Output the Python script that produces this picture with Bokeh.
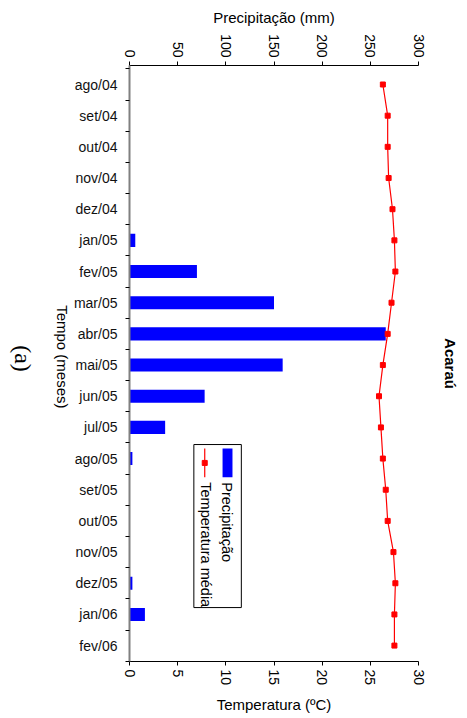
import math
from bokeh.plotting import figure
from bokeh.layouts import row
from bokeh.models import Range1d, LinearAxis, FixedTicker
from bokeh.core.properties import value
from bokeh.embed import file_html
from bokeh.resources import INLINE

months = ["ago/04", "set/04", "out/04", "nov/04", "dez/04", "jan/05", "fev/05",
          "mar/05", "abr/05", "mai/05", "jun/05", "jul/05", "ago/05", "set/05",
          "out/05", "nov/05", "dez/05", "jan/06", "fev/06"]
precip_mm = [0, 0, 0, 0, 0, 6, 70, 150, 266, 159, 78, 37, 3, 0, 0, 0, 3, 16, 0]
temp_c = [26.3, 26.8, 26.8, 26.9, 27.3, 27.5, 27.6, 27.2, 26.8, 26.3, 25.9,
          26.1, 26.3, 26.6, 26.8, 27.4, 27.6, 27.5, 27.5]
temp_ticks = [0, 5, 10, 15, 20, 25, 30]
prec_ticks = [0, 50, 100, 150, 200, 250, 300]

FONT = "Liberation Sans"
idx = list(range(len(months)))
H = 716
SIDE_W = 70

# ---- narrow side panel holding the panel tag and the rotated y title ----
side = figure(width=SIDE_W, height=H, output_backend="svg", toolbar_location=None,
              x_range=Range1d(0, SIDE_W), y_range=Range1d(H, 0),
              x_axis_location=None, y_axis_location=None, min_border=0)
side.outline_line_color = None
side.xgrid.visible = False
side.ygrid.visible = False
side.text(x=[22], y=[352], text=["(a)"], angle=-math.pi / 2, text_align="center",
          text_baseline="middle", text_font=value("Liberation Serif"),
          text_font_size="24px", text_color="black")
side.text(x=[62], y=[350], text=["Tempo (meses)"], angle=-math.pi / 2, text_align="center",
          text_baseline="middle", text_font=value(FONT),
          text_font_size="15px", text_color="black")

# ---- main chart ----
p = figure(width=391, height=H, output_backend="svg", toolbar_location=None,
           x_range=Range1d(0, 30), y_range=Range1d(18.51, -0.61),
           x_axis_location=None, y_axis_location=None,
           min_border_left=57, min_border_right=42, min_border_top=65,
           min_border_bottom=55)
p.extra_x_ranges = {"prec": Range1d(0, 300)}
p.outline_line_color = None
p.xgrid.visible = False
p.ygrid.visible = False
p.background_fill_color = "white"

# bars
p.hbar(y=idx, left=0, right=precip_mm, height=0.42, x_range_name="prec",
       fill_color="#0000ff", line_color=None)
# temperature
p.line(x=temp_c, y=idx, line_color="red", line_width=1.2)
p.scatter(x=temp_c, y=idx, marker="square", size=5, fill_color="red", line_color="red")

def style_x(ax):
    ax.axis_line_color = "black"
    ax.major_tick_line_color = "black"
    ax.major_tick_out = 4
    ax.major_tick_in = 0
    ax.minor_tick_line_color = None
    ax.major_label_orientation = -math.pi / 2
    ax.major_label_text_font = FONT
    ax.major_label_text_font_size = "14px"
    ax.major_label_text_color = "black"
    ax.axis_label_text_font = FONT
    ax.axis_label_text_font_size = "15px"
    ax.axis_label_text_font_style = "normal"
    ax.axis_label_text_color = "black"
    ax.axis_label_standoff = 5
    ax.major_label_standoff = 4

bottom = LinearAxis(ticker=FixedTicker(ticks=temp_ticks), axis_label="Temperatura (ºC)")
style_x(bottom)
bottom.axis_label_standoff = 8
p.add_layout(bottom, "below")

top = LinearAxis(x_range_name="prec", ticker=FixedTicker(ticks=prec_ticks),
                 axis_label="Precipitação (mm)")
style_x(top)
p.add_layout(top, "above")

left = LinearAxis(ticker=FixedTicker(ticks=idx, minor_ticks=[i - 0.5 for i in range(len(months) + 1)]))
left.major_label_overrides = {i: m for i, m in enumerate(months)}
left.axis_line_color = "#808080"
left.axis_line_width = 2
left.major_tick_line_color = None
left.minor_tick_line_color = "black"
left.minor_tick_out = 4
left.minor_tick_in = 0
left.major_label_text_font = FONT
left.major_label_text_font_size = "14px"
left.major_label_text_color = "#111111"
left.major_label_standoff = 6
p.add_layout(left, "left")

# station name as the title of an empty right axis (reads top to bottom)
right = LinearAxis(ticker=FixedTicker(ticks=[]), axis_label="Acaraú")
right.axis_line_color = None
right.major_tick_line_color = None
right.minor_tick_line_color = None
right.major_label_text_font_size = "0px"
right.axis_label_text_font = FONT
right.axis_label_text_font_size = "15px"
right.axis_label_text_font_style = "bold"
right.axis_label_text_color = "black"
right.axis_label_standoff = 23
p.add_layout(right, "right")

# legend
p.quad(left=6.68, right=11.61, top=11.55, bottom=16.78, fill_color="white",
       line_color="black", line_width=1)
p.quad(left=9.66, right=10.69, top=11.68, bottom=12.6, fill_color="#0000ff", line_color=None)
p.segment(x0=7.81, x1=7.81, y0=11.68, y1=12.6, line_color="red", line_width=1.2)
p.scatter(x=[7.81], y=[12.14], marker="square", size=5, fill_color="red", line_color="red")
p.text(x=[10.17], y=[12.76], text=["Precipitação"], angle=-math.pi / 2,
       text_align="left", text_baseline="middle", text_font=value(FONT),
       text_font_size="14.5px", text_color="black")
p.text(x=[7.91], y=[12.76], text=["Temperatura média"], angle=-math.pi / 2,
       text_align="left", text_baseline="middle", text_font=value(FONT),
       text_font_size="14.5px", text_color="black")

layout = row(side, p)
open("out.html", "w").write(file_html(layout, INLINE))
